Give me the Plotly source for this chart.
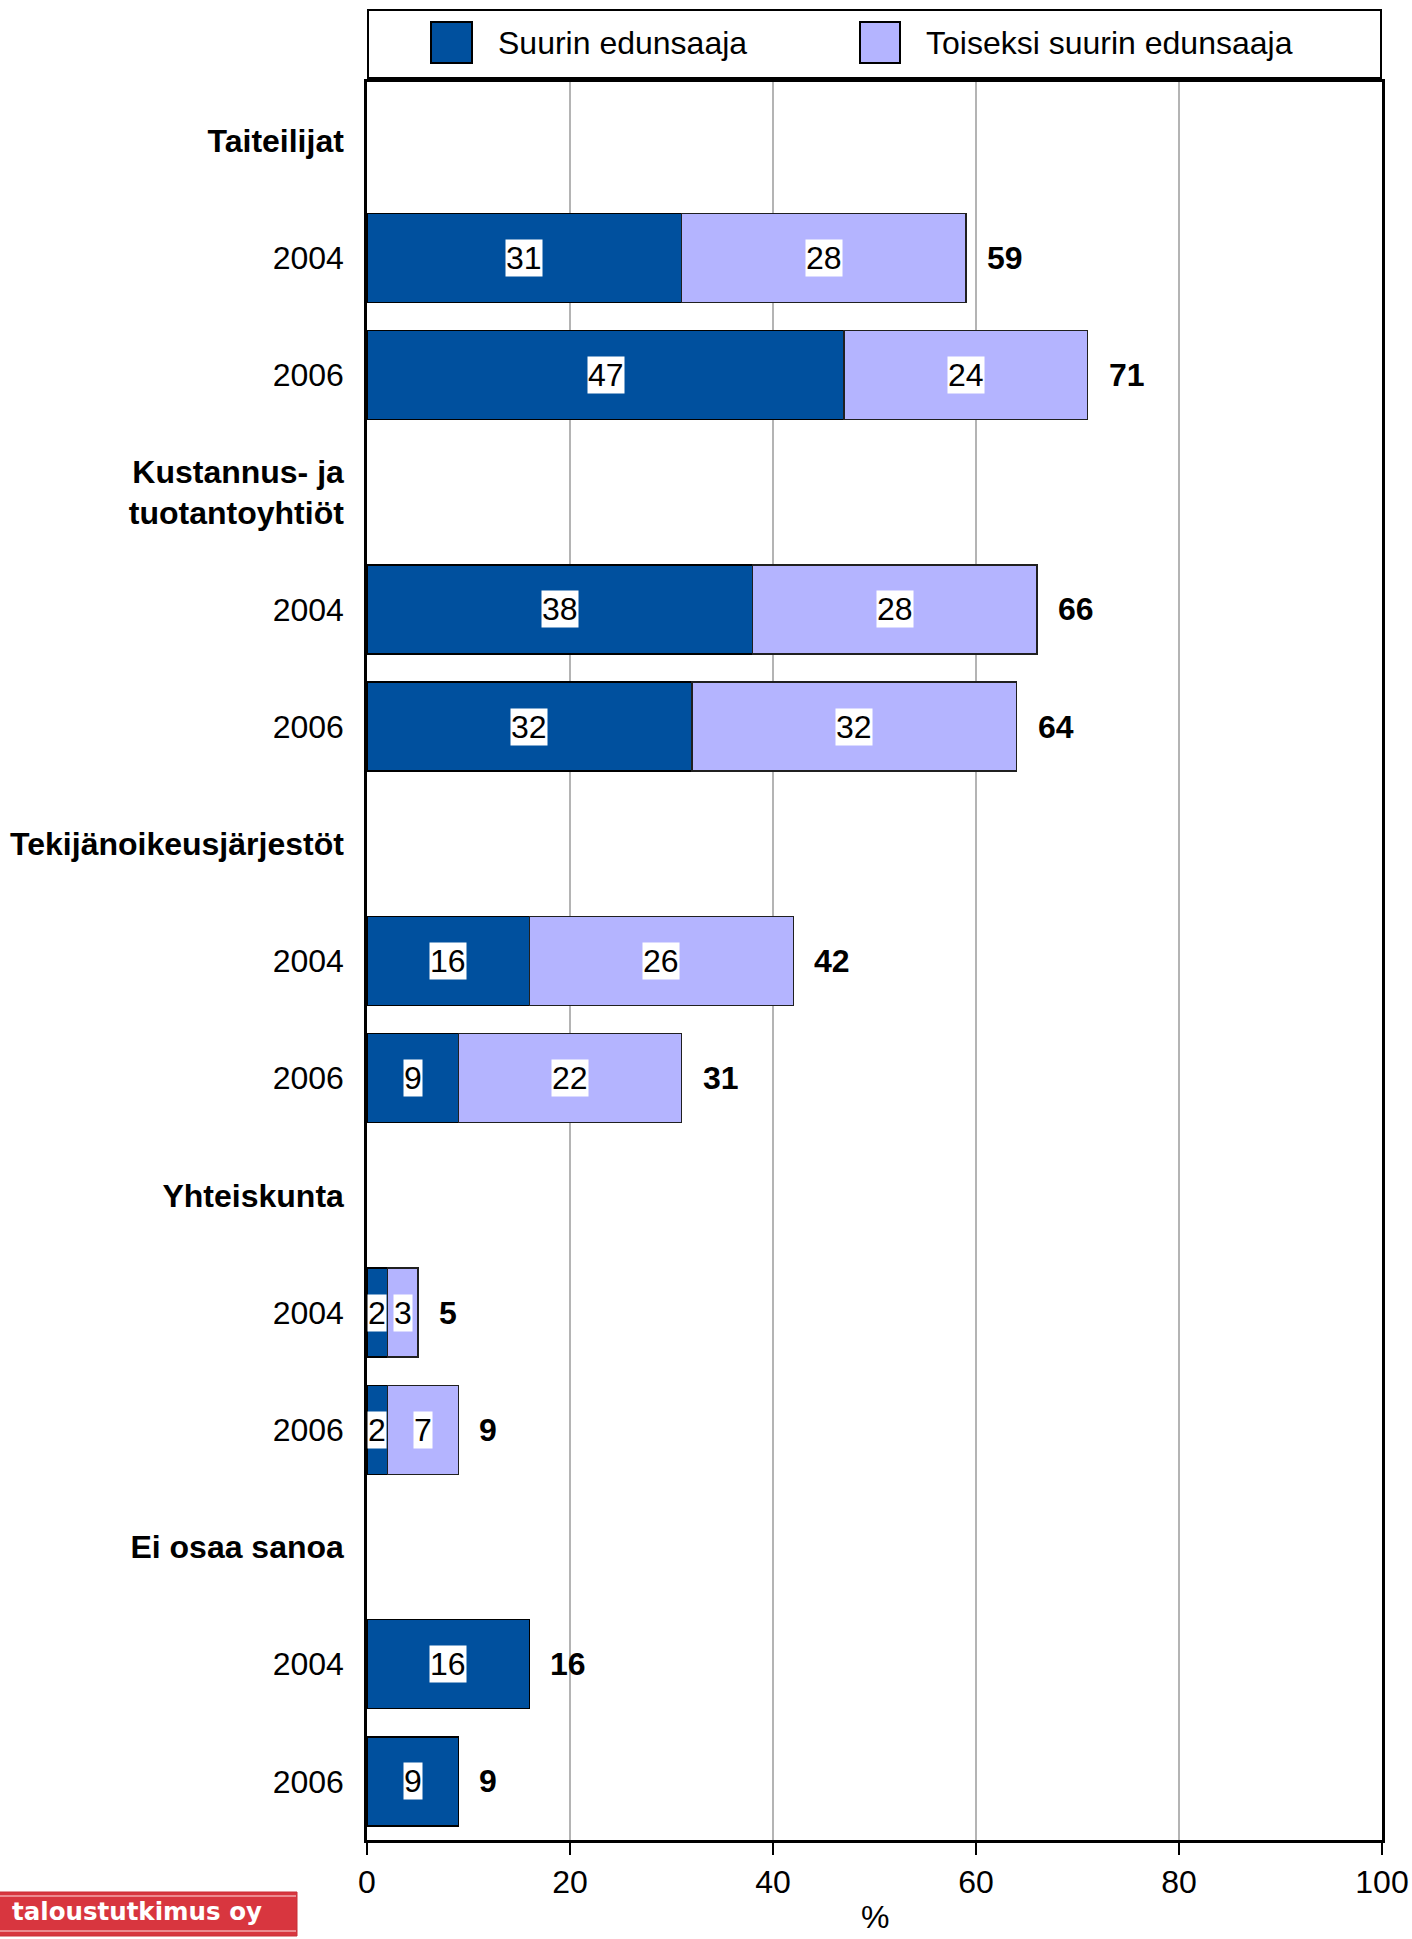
import plotly.graph_objects as go

# ---- data ----
categories = ["Taiteilijat", "Kustannus- ja<br>tuotantoyhtiöt", "Tekijänoikeusjärjestöt", "Yhteiskunta", "Ei osaa sanoa"]
years = ["2004", "2006"]
suurin = [[31, 47], [38, 32], [16, 9], [2, 2], [16, 9]]
toiseksi = [[28, 24], [28, 32], [26, 22], [3, 7], [None, None]]
series_names = ["Suurin edunsaaja", "Toiseksi suurin edunsaaja"]
x_ticks = [0, 20, 40, 60, 80, 100]
x_title = "%"

DARK = "#00509E"
LIGHT = "#B4B4FF"
FONT = "Liberation Sans, Arial, sans-serif"
FS = 32

W, H = 1412, 1939
ML, MT = 367, 82
PLOT_R, PLOT_B = 1382, 1840
MR, MB = W - PLOT_R, H - PLOT_B
PW, PH = PLOT_R - ML, PLOT_B - MT

def px_x(p):
    return (p - ML) / PW

def px_y(p):
    return (PLOT_B - p) / PH

# rows
tickvals, ticktext = [], []
ys, v1, v2 = [], [], []
row = 0
for ci, cat in enumerate(categories):
    tickvals.append(row); ticktext.append("<b>" + cat + "</b>")
    row += 1
    for yi, yr in enumerate(years):
        tickvals.append(row); ticktext.append(yr)
        ys.append(row)
        v1.append(suurin[ci][yi])
        v2.append(toiseksi[ci][yi])
        row += 1
nrows = row

fig = go.Figure()
fig.add_trace(go.Bar(y=ys, x=v1, orientation="h", name=series_names[0], width=0.76,
                     marker=dict(color=DARK, line=dict(color="#000000", width=1.5)), showlegend=False))
fig.add_trace(go.Bar(y=ys, x=v2, orientation="h", name=series_names[1], width=0.76,
                     marker=dict(color=LIGHT, line=dict(color="#202020", width=1.5)), showlegend=False))

annotations = []
for y, a, b in zip(ys, v1, v2):
    annotations.append(dict(x=a / 2, y=y, xref="x", yref="y", text=str(a), showarrow=False,
                            bgcolor="white", borderpad=0, font=dict(family=FONT, size=FS, color="black")))
    tot = a
    if b is not None:
        annotations.append(dict(x=a + b / 2, y=y, xref="x", yref="y", text=str(b), showarrow=False,
                                bgcolor="white", borderpad=0, font=dict(family=FONT, size=FS, color="black")))
        tot = a + b
    annotations.append(dict(x=tot, y=y, xref="x", yref="y", text="<b>%d</b>" % tot, showarrow=False,
                            xanchor="left", xshift=19, font=dict(family=FONT, size=FS, color="black")))

# x axis title
annotations.append(dict(x=0.5, y=px_y(1937), xref="paper", yref="paper", text=x_title, showarrow=False,
                        xanchor="center", yanchor="bottom", font=dict(family=FONT, size=FS, color="black")))

shapes = []
# custom legend
shapes.append(dict(type="rect", xref="paper", yref="paper", x0=px_x(368), x1=px_x(1381),
                   y0=px_y(78), y1=px_y(10), line=dict(color="black", width=2), fillcolor="white"))
shapes.append(dict(type="rect", xref="paper", yref="paper", x0=px_x(431), x1=px_x(472),
                   y0=px_y(63), y1=px_y(22), line=dict(color="black", width=2), fillcolor=DARK))
shapes.append(dict(type="rect", xref="paper", yref="paper", x0=px_x(860), x1=px_x(900),
                   y0=px_y(63), y1=px_y(22), line=dict(color="black", width=2), fillcolor=LIGHT))
annotations.append(dict(x=px_x(496), y=px_y(43), xref="paper", yref="paper", text=series_names[0],
                        showarrow=False, xanchor="left", yanchor="middle",
                        font=dict(family=FONT, size=FS, color="black")))
annotations.append(dict(x=px_x(924), y=px_y(43), xref="paper", yref="paper", text=series_names[1],
                        showarrow=False, xanchor="left", yanchor="middle",
                        font=dict(family=FONT, size=FS, color="black")))

# logo
shapes.append(dict(type="rect", xref="paper", yref="paper", x0=px_x(-2), x1=px_x(297),
                   y0=px_y(1936), y1=px_y(1892), line=dict(color="#c83038", width=1), fillcolor="#d8363f"))
shapes.append(dict(type="line", xref="paper", yref="paper", x0=px_x(0), x1=px_x(296),
                   y0=px_y(1896), y1=px_y(1896), line=dict(color="#f2a8ac", width=1.5)))
shapes.append(dict(type="line", xref="paper", yref="paper", x0=px_x(0), x1=px_x(296),
                   y0=px_y(1931), y1=px_y(1931), line=dict(color="#f2a8ac", width=1.5)))
annotations.append(dict(x=px_x(264), y=px_y(1911), xref="paper", yref="paper", text="<b>taloustutkimus oy</b>",
                        showarrow=False, xanchor="right", yanchor="middle",
                        font=dict(family="DejaVu Sans, sans-serif", size=24.5, color="white")))

fig.update_layout(
    width=W, height=H,
    margin=dict(l=ML, r=MR, t=MT, b=MB, pad=0, autoexpand=False),
    paper_bgcolor="white", plot_bgcolor="white",
    barmode="stack",
    showlegend=False,
    font=dict(family=FONT, size=FS, color="black"),
    annotations=annotations,
    shapes=shapes,
)
fig.update_xaxes(range=[0, 100], tickvals=x_ticks, ticktext=[str(t) for t in x_ticks],
                 showgrid=True, gridcolor="#b4b4b4", gridwidth=1.5,
                 showline=True, linecolor="black", linewidth=2.5, mirror=True,
                 ticks="outside", ticklen=12, tickwidth=1.5, tickcolor="black",
                 tickfont=dict(family=FONT, size=FS), zeroline=False, automargin=False)
fig.update_yaxes(range=[nrows - 0.5, -0.5], tickvals=tickvals, ticktext=ticktext,
                 showgrid=False, zeroline=False, automargin=False,
                 showline=True, linecolor="black", linewidth=2.5, mirror=True,
                 ticks="", ticklabelstandoff=14, tickfont=dict(family=FONT, size=FS))

fig.write_html("out.html", config={"displayModeBar": False},
               post_script="document.body.style.margin='0';document.body.style.overflow='hidden';document.documentElement.style.overflow='hidden';")
